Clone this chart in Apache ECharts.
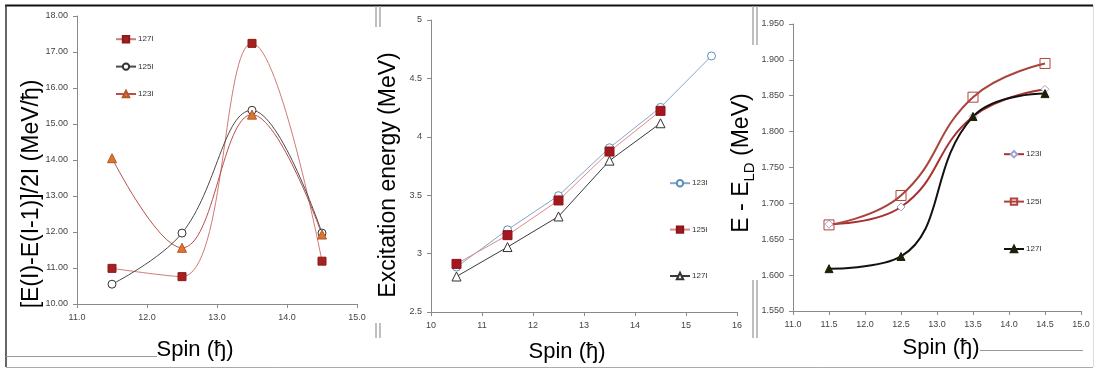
<!DOCTYPE html>
<html>
<head>
<meta charset="utf-8">
<script src="https://cdn.jsdelivr.net/npm/echarts@6/dist/echarts.min.js"></script>
<style>
html,body{margin:0;padding:0;background:#fff;}
#c{width:1096px;height:369px;}
</style>
</head>
<body>
<div id="c"></div>
<script>
// ---- Panel 1: [E(I)-E(I-1)]/2I vs spin ----
const spin1 = [11.5, 12.5, 13.5, 14.5];
const p1_127I = [10.99, 10.76, 17.24, 11.19];
const p1_125I = [10.55, 11.97, 15.38, 11.97];
const p1_123I = [14.05, 11.56, 15.26, 11.93];
const p1XTicks = [11, 12, 13, 14, 15];
const p1YTicks = [10, 11, 12, 13, 14, 15, 16, 17, 18];

// ---- Panel 2: Excitation energy vs spin ----
const spin2_123I = [10.5, 11.5, 12.5, 13.5, 14.5, 15.5];
const spin2_other = [10.5, 11.5, 12.5, 13.5, 14.5];
const p2_123I = [2.885, 3.204, 3.496, 3.906, 4.252, 4.692];
const p2_125I = [2.912, 3.158, 3.455, 3.874, 4.222];
const p2_127I = [2.804, 3.056, 3.318, 3.796, 4.116];
const p2XTicks = [10, 11, 12, 13, 14, 15, 16];
const p2YTicks = [2.5, 3, 3.5, 4, 4.5, 5];

// ---- Panel 3: E - E_LD vs spin ----
const spin3 = [11.5, 12.5, 13.5, 14.5];
const p3_123I = [1.671, 1.695, 1.821, 1.859];
const p3_125I = [1.670, 1.711, 1.848, 1.895];
const p3_127I = [1.609, 1.626, 1.821, 1.853];
const p3XTicks = [11.0, 11.5, 12.0, 12.5, 13.0, 13.5, 14.0, 14.5, 15.0];
const p3YTicks = [1.55, 1.60, 1.65, 1.70, 1.75, 1.80, 1.85, 1.90, 1.95];

const legend1 = ['127I', '125I', '123I'];
const legend2 = ['123I', '125I', '127I'];
const legend3 = ['123I', '125I', '127I'];

const yTitle1 = '[E(I)-E(I-1)]/2I (MeV/ђ)';
const yTitle2 = 'Excitation energy (MeV)';
const xTitle = 'Spin (ђ)';

function pairs(xs, ys) { return xs.map((x, i) => [x, ys[i]]); }

const FF = '"Liberation Sans", Arial, sans-serif';
const axisCommon = {
  type: 'value',
  axisLine: { show: true, lineStyle: { color: '#8a8a8a', width: 1 } },
  axisTick: { show: true, length: 4, lineStyle: { color: '#8a8a8a' } },
  splitLine: { show: false },
  axisLabel: { fontSize: 9, color: '#444', margin: 9, fontFamily: FF }
};
function xAx(grid, ticks, dec) {
  return Object.assign({}, axisCommon, {
    gridIndex: grid, min: ticks[0], max: ticks[ticks.length - 1],
    interval: ticks[1] - ticks[0],
    axisLabel: Object.assign({}, axisCommon.axisLabel, {
      formatter: v => dec == null ? String(v) : v.toFixed(dec)
    })
  });
}
function yAx(grid, ticks, dec) {
  return Object.assign({}, axisCommon, {
    gridIndex: grid, min: ticks[0], max: ticks[ticks.length - 1],
    interval: +(ticks[1] - ticks[0]).toFixed(4),
    axisLabel: Object.assign({}, axisCommon.axisLabel, {
      formatter: v => dec == null ? String(+v.toFixed(2)) : v.toFixed(dec)
    })
  });
}

function ser(name, grid, data, o) {
  return {
    type: 'line', name: name, xAxisIndex: grid, yAxisIndex: grid,
    data: data, smooth: o.smooth, symbol: o.symbol, symbolSize: o.size,
    showSymbol: true,
    lineStyle: { color: o.line, width: o.lw || 1 },
    itemStyle: { color: o.fill, borderColor: o.border, borderWidth: 1 },
    z: o.z || 2
  };
}

const S1 = 0.4, S3 = 0.45;
const series = [
  ser('a|127I', 0, pairs(spin1, p1_127I), { smooth: S1, symbol: 'rect', size: 8, line: '#cf7b74', fill: '#a3211f', border: '#8e1b19' }),
  ser('a|125I', 0, pairs(spin1, p1_125I), { smooth: S1, symbol: 'circle', size: 8, line: '#4a4a4a', fill: '#ffffff', border: '#333' }),
  ser('a|123I', 0, pairs(spin1, p1_123I), { smooth: S1, symbol: 'triangle', size: 9, line: '#b9504a', fill: '#d9772f', border: '#b5562a' }),

  ser('b|123I', 1, pairs(spin2_123I, p2_123I), { smooth: false, symbol: 'circle', size: 8, line: '#7ea8cf', fill: '#ffffff', border: '#5d8db8' }),
  ser('b|125I', 1, pairs(spin2_other, p2_125I), { smooth: false, symbol: 'rect', size: 9, line: '#e08a86', fill: '#a3171e', border: '#8d1419', z: 3 }),
  ser('b|127I', 1, pairs(spin2_other, p2_127I), { smooth: false, symbol: 'triangle', size: 9, line: '#3a3a3a', fill: '#ffffff', border: '#333' }),

  ser('c|123I', 2, pairs(spin3, p3_123I), { smooth: S3, symbol: 'diamond', size: 8, line: '#a83030', lw: 2, fill: '#ffffff', border: '#a3a3cc' }),
  ser('c|125I', 2, pairs(spin3, p3_125I), { smooth: S3, symbol: 'rect', size: 10, line: '#a9443d', lw: 2, fill: 'rgba(255,255,255,0)', border: '#b3423c' }),
  ser('c|127I', 2, pairs(spin3, p3_127I), { smooth: S3, symbol: 'triangle', size: 8, line: '#111', lw: 2, fill: '#1e2008', border: '#1e2008', z: 3 })
];

function leg(prefix, names, left, top, gap) {
  return {
    orient: 'vertical', left: left, top: top, itemWidth: 20, itemHeight: 8,
    itemGap: gap, padding: 0, selectedMode: false,
    data: names.map(n => prefix + '|' + n),
    formatter: n => n.split('|')[1],
    textStyle: { fontSize: 8, color: '#333', fontFamily: FF, padding: [0, 0, 0, -3] }
  };
}

function line(x1, y1, x2, y2, color, w) {
  return { type: 'line', silent: true, shape: { x1: x1, y1: y1, x2: x2, y2: y2 }, style: { stroke: color, lineWidth: w } };
}
function txt(x, y, text, size, rot, rich) {
  const s = { text: text, font: size + 'px ' + FF, fill: '#000', align: 'center', verticalAlign: 'middle' };
  if (rich) s.rich = rich;
  return { type: 'text', x: x, y: y, rotation: rot || 0, silent: true, style: s };
}

const option = {
  animation: false,
  backgroundColor: '#fff',
  grid: [
    { left: 77, top: 16, width: 280, height: 288 },
    { left: 431, top: 20, width: 306, height: 292 },
    { left: 793, top: 24, width: 288, height: 287 }
  ],
  xAxis: [xAx(0, p1XTicks, 1), xAx(1, p2XTicks, null), xAx(2, p3XTicks, 1)],
  yAxis: [yAx(0, p1YTicks, 2), yAx(1, p2YTicks, null), yAx(2, p3YTicks, 3)],
  legend: [
    leg('a', legend1, 115, 35, 19),
    leg('b', legend2, 669, 179, 38),
    leg('c', legend3, 1003, 150, 39)
  ],
  series: series,
  graphic: [
    // outer frame
    line(5, 5.5, 1093, 5.5, '#111', 2),
    line(6, 5, 6, 367, '#333', 1.5),
    line(6, 367.5, 1093, 367.5, '#aaa', 1),
    line(1093.5, 5, 1093.5, 367, '#ddd', 1),
    // separators
    line(376, 6, 376, 27, '#aaa', 1.5), line(380, 6, 380, 27, '#aaa', 1.5),
    line(376, 323, 376, 338, '#aaa', 1.5), line(380, 323, 380, 338, '#aaa', 1.5),
    line(753, 6, 753, 45, '#aaa', 1.5), line(757, 6, 757, 45, '#aaa', 1.5),
    line(753, 280, 753, 338, '#aaa', 1.5), line(757, 280, 757, 338, '#aaa', 1.5),
    line(6, 356.5, 157, 356.5, '#999', 1),
    line(980, 350.5, 1083, 350.5, '#999', 1),
    // axis titles
    txt(32, 194, yTitle1, 23, Math.PI / 2),
    txt(389, 175, yTitle2, 23, Math.PI / 2),
    txt(742, 163, 'E - E{sub|LD} (MeV)', 23, Math.PI / 2, { sub: { fontSize: 15, fontFamily: FF, verticalAlign: 'bottom', lineHeight: 30 } }),
    txt(195, 350, xTitle, 22, 0),
    txt(567, 352, xTitle, 22, 0),
    txt(941, 348, xTitle, 22, 0)
  ]
};

const chart = echarts.init(document.getElementById('c'), null, { renderer: 'canvas' });
chart.setOption(option);
</script>
</body>
</html>
